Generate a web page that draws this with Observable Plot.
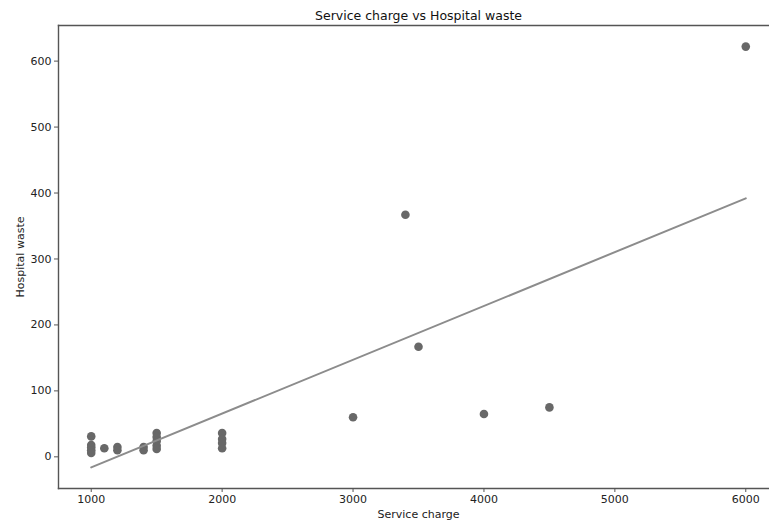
<!DOCTYPE html>
<html>
<head>
<meta charset="utf-8">
<script src="https://cdn.jsdelivr.net/npm/d3@7"></script>
<script src="https://cdn.jsdelivr.net/npm/@observablehq/plot@0.6"></script>
<style>
  html, body { margin: 0; padding: 0; background: #fff; overflow: hidden; }
  #chart { width: 769px; height: 527px; overflow: hidden; }
  #chart svg { max-width: none !important; }
</style>
</head>
<body>
<div id="chart"></div>
<script>
// Scatter data: service charge (x) vs hospital waste (y)
const serviceCharge = [1000, 1000, 1000, 1000, 1000, 1100, 1200, 1200, 1400, 1400, 1500, 1500, 1500, 1500, 1500, 2000, 2000, 2000, 2000, 3000, 3400, 3500, 4000, 4500, 6000];
const hospitalWaste = [31, 18, 14, 10, 6, 13, 15, 10, 15, 10, 36, 30, 24, 17, 12, 36, 27, 21, 13, 60, 367, 167, 65, 75, 622];

// Fitted regression line (endpoints)
const fitX = [1000, 6000];
const fitY = [-16, 392];

const xTicks = [1000, 2000, 3000, 4000, 5000, 6000];
const yTicks = [0, 100, 200, 300, 400, 500, 600];

const titleText = "Service charge vs Hospital waste";
const xLabel = "Service charge";
const yLabel = "Hospital waste";

const points = serviceCharge.map((x, i) => ({x, y: hospitalWaste[i]}));
const fit = fitX.map((x, i) => ({x, y: fitY[i]}));

const axisColor = "#555";

// The original figure is cropped on the right: the plot frame extends past the 769px window.
const chart = Plot.plot({
  width: 778,
  height: 527,
  marginLeft: 58,
  marginRight: 0,
  marginTop: 25,
  marginBottom: 39,
  style: {fontFamily: "DejaVu Sans", fontSize: "11px", color: "#222", background: "#fff"},
  x: {domain: [750, 6250]},
  y: {domain: [-48, 654]},
  marks: [
    Plot.dot(points, {x: "x", y: "y", r: 4.3, fill: "#686868", stroke: "none"}),
    Plot.line(fit, {x: "x", y: "y", stroke: "#8c8c8c", strokeWidth: 2}),
    Plot.frame({anchor: "left", stroke: axisColor, strokeWidth: 1.4}),
    Plot.frame({anchor: "top", stroke: axisColor, strokeWidth: 1.4}),
    Plot.frame({anchor: "bottom", stroke: axisColor, strokeWidth: 1.4}),
    Plot.axisX({ticks: xTicks, tickFormat: d => String(d), tickSize: 4, tickPadding: 3, stroke: axisColor,
      label: null, fontSize: 11}),
    Plot.axisY({ticks: yTicks, tickFormat: d => String(d), tickSize: 4, tickPadding: 3, stroke: axisColor,
      label: null, fontSize: 11}),
    Plot.text([xLabel], {frameAnchor: "bottom", text: d => d, dy: 29, fontSize: 11, fill: "#222"}),
    Plot.text([yLabel], {frameAnchor: "left", text: d => d, dx: -38, rotate: -90, textAnchor: "middle", fontSize: 11, fill: "#222"}),
    Plot.text([titleText], {frameAnchor: "top", text: d => d, dy: -14, fontSize: 12.5, fill: "#111"})
  ]
});
document.getElementById("chart").appendChild(chart);
</script>
</body>
</html>
